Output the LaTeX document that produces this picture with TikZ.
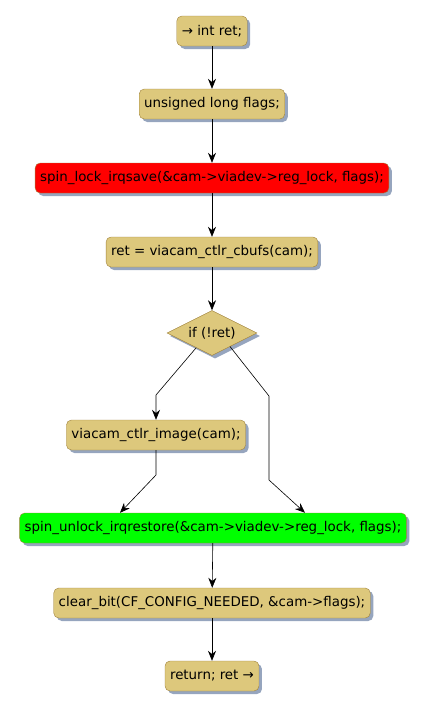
\documentclass[tikz,border=0pt]{standalone}
\usepackage{fontspec}
\setmainfont{DejaVu Sans}
\usetikzlibrary{arrows.meta,positioning,shapes.geometric,shadows,calc}
\usepackage{xcolor}
\definecolor{boxtan}{RGB}{221,200,124}
\definecolor{boxline}{RGB}{160,130,60}
\definecolor{shadowblue}{RGB}{150,165,190}
\definecolor{lockred}{RGB}{255,0,0}
\definecolor{unlockgreen}{RGB}{0,255,0}

\begin{document}
\begin{tikzpicture}[x=1pt,y=-1pt,every node/.style={font=\fontsize{13.4}{15}\selectfont},
  stmt/.style={draw=boxline,fill=boxtan,rounded corners=5pt,minimum height=30pt,inner xsep=5pt,
    drop shadow={shadow xshift=3pt,shadow yshift=-3pt,fill=shadowblue,opacity=1}},
  cond/.style={diamond,aspect=2,draw=boxline,fill=boxtan,minimum width=90pt,minimum height=45pt,inner sep=0pt,
    drop shadow={shadow xshift=3pt,shadow yshift=-3pt,fill=shadowblue,opacity=1}},
  arr/.style={-{Stealth[length=10pt,width=8pt]},semithick}]
  \useasboundingbox (0,0) rectangle (429,710);
  % main column
  \node[stmt] (ret) at (212,31) {→ int ret;};
  \node[stmt] (flags) at (212,104) {unsigned long flags;};
  \node[stmt,fill=lockred] (lock) at (212,178) {spin\_lock\_irqsave(\&cam->viadev->reg\_lock, flags);};
  \node[stmt] (cbufs) at (212,252) {ret = viacam\_ctlr\_cbufs(cam);};
  \node[cond] (test) at (212,333) {if (!ret)};
  \node[stmt] (image) at (156,435) {viacam\_ctlr\_image(cam);};
  \node[stmt,fill=unlockgreen] (unlock) at (213,528) {spin\_unlock\_irqrestore(\&cam->viadev->reg\_lock, flags);};
  \node[stmt] (clear) at (212,603) {clear\_bit(CF\_CONFIG\_NEEDED, \&cam->flags);};
  \node[stmt] (done) at (212,676) {return; ret →};
  % bends
  \coordinate (lbend) at (156,395);
  \coordinate (rtop) at (269,396);
  \coordinate (rlow) at (269,480);
  \coordinate (ilow) at (156,475);
  % straight arrows
  \draw[arr] (ret) -- (flags);
  \draw[arr] (flags) -- (lock);
  \draw[arr] (lock) -- (cbufs);
  \draw[arr] (cbufs) -- (test);
  \draw[arr] (unlock) -- (clear);
  \draw[arr] (clear) -- (done);
  % branches
  \draw[arr] ($(test.west)!0.65!(test.south)$) -- (lbend) -- (image.north);
  \draw[arr] ($(test.east)!0.6!(test.south)$) -- (rtop) -- (rlow) -- ($(unlock.north)+(92,0)$);
  \draw[arr] (image.south) -- (ilow) -- ($(unlock.north)+(-93,0)$);
\end{tikzpicture}
\end{document}
